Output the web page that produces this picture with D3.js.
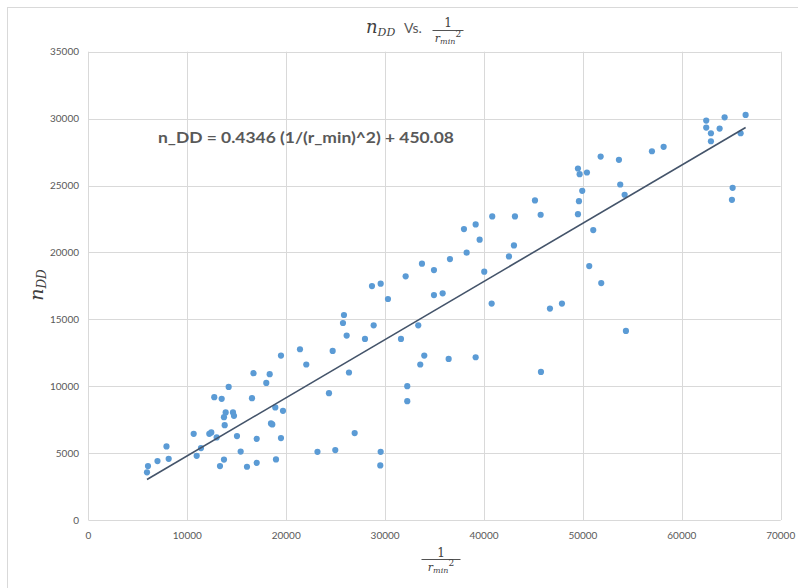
<!DOCTYPE html>
<html><head><meta charset="utf-8">
<script src="https://cdn.jsdelivr.net/npm/d3@7"></script>
<style>body{margin:0;background:#fff;} svg{display:block;}</style>
</head><body>
<svg id="c" width="798" height="588"></svg>
<script>
const xValues = [5925,6026,6986,7896,8118,10646,10949,11384,12223,12425,12971,12728,13476,14184,13881,14619,13709,14720,13780,13305,13709,15023,15397,16034,17015,17015,16540,16692,17986,18330,18461,18593,18896,19674,19472,18967,19472,21393,22030,23162,
24699,24962,24325,25841,25740,26114,26347,26923,27965,28672,28844,29552,30290,29552,29512,31604,32079,32241,32241,33353,33555,33960,33727,34940,34940,35820,36426,36557,38246,37973,39156,39560,39156,40025,40773,40834,42523,43028,43129,
45152,45728,45758,46668,47881,49499,49670,50408,49933,49600,49499,51046,50641,51855,51794,53644,53775,54220,54351,56980,58163,62470,62470,62945,62945,63825,64330,66453,65948,65140,65069];
const yValues = [3560,4030,4403,5500,4575,6441,4799,5373,6441,6545,6172,9179,9053,9948,8038,8038,7687,7784,7090,4030,4515,6269,5112,3978,4276,6067,9105,10971,10247,10896,7217,7142,8411,8157,6120,4530,12291,12761,11620,5097,
12635,5224,9478,15322,14725,13784,11023,6493,13531,17486,14553,17665,16516,5097,4082,13531,18210,10000,8881,14553,11620,12291,19157,18680,16814,16941,12038,19500,19978,21740,22090,20949,12165,18560,16172,22687,19702,20523,22687,
23881,22815,11068,15799,16172,26270,25845,25971,24605,23829,22859,21665,18978,17710,27165,26919,25075,24307,14128,27561,27890,29852,29329,28904,28307,29254,30098,30277,28904,24829,23933];
const xTicks = [0,10000,20000,30000,40000,50000,60000,70000];
const yTicks = [0,5000,10000,15000,20000,25000,30000,35000];
const slope = 0.4346, intercept = 450.08;
const equationText = "n_DD = 0.4346 (1/(r_min)^2) + 450.08";

const svg = d3.select("#c");
const L = 88.4, R = 780.7, T = 51.7, B = 520;
const x = d3.scaleLinear().domain([0,70000]).range([L,R]);
const y = d3.scaleLinear().domain([0,35000]).range([B,T]);
const grey = "#595959";

// chart border
svg.append("rect").attr("x",7.5).attr("y",7.5).attr("width",800).attr("height",600)
  .attr("fill","none").attr("stroke","#D9D9D9").attr("stroke-width",1);

// gridlines
svg.append("g").selectAll("line").data(yTicks).join("line")
  .attr("x1",L).attr("x2",R).attr("y1",d=>Math.round(y(d))+0.5).attr("y2",d=>Math.round(y(d))+0.5)
  .attr("stroke","#D9D9D9").attr("stroke-width",1);
svg.append("g").selectAll("line").data(xTicks).join("line")
  .attr("y1",T).attr("y2",B).attr("x1",d=>Math.round(x(d))+0.5).attr("x2",d=>Math.round(x(d))+0.5)
  .attr("stroke","#D9D9D9").attr("stroke-width",1);

// tick labels
svg.append("g").selectAll("text").data(yTicks).join("text")
  .attr("x",79).attr("y",d=>y(d)+3.5).attr("text-anchor","end")
  .attr("font-family","Lato, 'Open Sans', sans-serif").attr("font-size",10).attr("fill",grey)
  .text(d=>d);
svg.append("g").selectAll("text").data(xTicks).join("text")
  .attr("x",d=>x(d)).attr("y",539).attr("text-anchor","middle")
  .attr("font-family","Lato, 'Open Sans', sans-serif").attr("font-size",10).attr("fill",grey)
  .text(d=>d);

// points
svg.append("g").selectAll("circle").data(xValues.map((v,i)=>[v,yValues[i]])).join("circle")
  .attr("cx",d=>x(d[0])).attr("cy",d=>y(d[1])).attr("r",3.1).attr("fill","#5B9BD5");

// trendline
const xmin = d3.min(xValues), xmax = d3.max(xValues);
svg.append("line").attr("x1",x(xmin)).attr("y1",y(slope*xmin+intercept))
  .attr("x2",x(xmax)).attr("y2",y(slope*xmax+intercept))
  .attr("stroke","#44546A").attr("stroke-width",1.6);

// equation
svg.append("text").attr("x",158).attr("y",143)
  .attr("font-family","Lato, 'Open Sans', sans-serif").attr("font-weight","bold")
  .attr("font-size",15).attr("fill",grey).attr("textLength",296).attr("lengthAdjust","spacingAndGlyphs")
  .text(equationText);

const serif = "'DejaVu Serif', 'Liberation Serif', serif";
// title
const t = svg.append("text").attr("y",33).attr("fill","#404040");
t.append("tspan").attr("x",366).attr("font-family",serif).attr("font-style","italic").attr("font-size",18).text("n");
t.append("tspan").attr("font-family",serif).attr("font-style","italic").attr("font-size",11).attr("dy",3).text("DD");
t.append("tspan").attr("x",404).attr("y",33).attr("font-family","Lato, sans-serif").attr("font-size",14).attr("fill",grey).text("Vs.");
function frac(g, cx, numY, lineY, denY, w, col){
  g.append("text").attr("x",cx).attr("y",numY).attr("text-anchor","middle")
    .attr("font-family",serif).attr("font-size",12).attr("fill",col).text("1");
  g.append("line").attr("x1",cx-w/2).attr("x2",cx+w/2).attr("y1",lineY).attr("y2",lineY)
    .attr("stroke",col).attr("stroke-width",0.9);
  const d = g.append("text").attr("x",cx).attr("y",denY).attr("text-anchor","middle").attr("fill",col)
    .attr("font-family",serif).attr("font-style","italic");
  d.append("tspan").attr("font-size",11).text("r");
  d.append("tspan").attr("font-size",8).attr("dy",2).text("min");
  d.append("tspan").attr("font-size",9).attr("font-style","normal").attr("dy",-7).text("2");
}
frac(svg.append("g"), 448, 27, 30.5, 42, 31, "#404040");
frac(svg.append("g"), 441, 557, 559.5, 571, 39, "#404040");

// y label
const yl = svg.append("text").attr("transform","translate(43,285) rotate(-90)").attr("text-anchor","middle")
  .attr("fill","#404040").attr("font-family",serif).attr("font-style","italic");
yl.append("tspan").attr("font-size",19).text("n");
yl.append("tspan").attr("font-size",12).attr("dy",3).text("DD");
</script>
</body></html>
